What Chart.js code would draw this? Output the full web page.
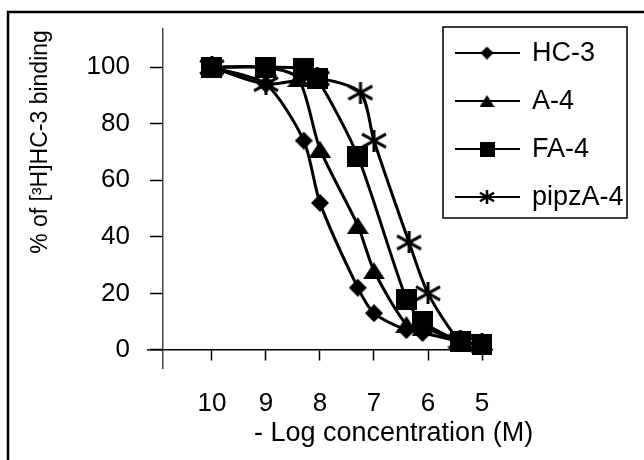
<!DOCTYPE html>
<html>
<head>
<meta charset="utf-8">
<script src="https://cdn.jsdelivr.net/npm/chart.js@4.4.0/dist/chart.umd.min.js"></script>
<style>
  body { margin: 0; background: #fff; }
  #wrap { width: 644px; height: 460px; }
</style>
</head>
<body>
<div id="wrap"><canvas id="binding-chart" width="644" height="460"></canvas></div>
<script>
        // Data
        const seriesNames = ['HC-3', 'A-4', 'FA-4', 'pipzA-4'];
        const hc3X = [10, 9, 8.3, 8, 7.3, 7, 6.4, 6.1, 5.4, 5];
        const hc3Y = [100, 94, 74, 52, 22, 13, 7, 6, 3, 2];
        const a4X = [10, 9, 8.4, 8, 7.3, 7, 6.4, 6.1, 5.4, 5];
        const a4Y = [100, 100, 96, 71, 44, 28, 9, 8, 3, 2];
        const fa4X = [10, 9, 8.3, 8.05, 7.3, 6.4, 6.1, 5.4, 5];
        const fa4Y = [100, 100, 99.5, 96, 68.5, 18, 10, 3, 2];
        const pipzX = [10, 9, 8.05, 7.25, 7, 6.35, 6, 5.4, 5];
        const pipzY = [100, 94, 96, 91, 74, 38, 20, 3, 2];
        const xTicks = [10, 9, 8, 7, 6, 5];
        const yTicks = [0, 20, 40, 60, 80, 100];

        const FONT = '"Liberation Sans", Arial, sans-serif';

        // Excel-like marker images
        function markerCanvas(kind, w, h, lw) {
            const c = document.createElement('canvas');
            c.width = w;
            c.height = h;
            const g = c.getContext('2d');
            g.fillStyle = '#000';
            g.strokeStyle = '#000';
            g.lineWidth = lw || 1;
            g.beginPath();
            if (kind === 'diamond') {
                g.moveTo(w / 2, 0); g.lineTo(w, h / 2); g.lineTo(w / 2, h); g.lineTo(0, h / 2);
                g.closePath(); g.fill();
            } else if (kind === 'triangle') {
                g.moveTo(w / 2, 0); g.lineTo(w, h); g.lineTo(0, h);
                g.closePath(); g.fill();
            } else if (kind === 'square') {
                g.fillRect(0, 0, w, h);
            } else {
                g.moveTo(1, h * 0.2); g.lineTo(w - 1, h * 0.8);
                g.moveTo(w - 1, h * 0.2); g.lineTo(1, h * 0.8);
                g.moveTo(w / 2, 0); g.lineTo(w / 2, h);
                g.stroke();
            }
            return c;
        }

        const bigMarkers = [
            markerCanvas('diamond', 18, 18),
            markerCanvas('triangle', 22, 17),
            markerCanvas('square', 21, 21),
            markerCanvas('star', 26, 22, 3)
        ];
        const smallMarkers = [
            markerCanvas('diamond', 13, 13),
            markerCanvas('triangle', 15, 12),
            markerCanvas('square', 15, 15),
            markerCanvas('star', 16, 14, 2.5)
        ];

        const toPoints = (xs, ys) => xs.map((x, i) => ({ x: x, y: ys[i] }));
        const allX = [hc3X, a4X, fa4X, pipzX];
        const allY = [hc3Y, a4Y, fa4Y, pipzY];

        const datasets = seriesNames.map((name, i) => ({
            label: name,
            data: toPoints(allX[i], allY[i]),
            borderColor: '#000',
            backgroundColor: '#000',
            borderWidth: 3,
            pointStyle: bigMarkers[i],
            tension: 0.25,
            fill: false
        }));

        // Frame, axis titles and boxed legend
        const extras = {
            id: 'extras',
            afterDraw(chart) {
                const ctx = chart.ctx;
                const y0 = chart.scales.y;
                ctx.save();
                ctx.strokeStyle = '#000';
                ctx.lineWidth = 2.5;
                ctx.beginPath();
                ctx.moveTo(8, 460); ctx.lineTo(8, 12); ctx.lineTo(644, 12);
                ctx.stroke();

                // x axis stub left of the y axis
                const zy = y0.getPixelForValue(0);
                ctx.lineWidth = 1.5;
                ctx.beginPath();
                ctx.moveTo(147, zy); ctx.lineTo(chart.chartArea.left, zy);
                ctx.stroke();

                ctx.fillStyle = '#000';
                ctx.font = '27px ' + FONT;
                ctx.textBaseline = 'alphabetic';
                ctx.textAlign = 'left';
                ctx.fillText('- Log concentration (M)', 254, 441);

                ctx.save();
                ctx.translate(47, 142);
                ctx.rotate(-Math.PI / 2);
                ctx.textAlign = 'center';
                ctx.font = '23px ' + FONT;
                ctx.fillText('% of [\u00B3H]HC-3 binding', 0, 0);
                ctx.restore();

                // legend box
                ctx.lineWidth = 1.5;
                ctx.strokeRect(443, 27, 184, 191);
                const rows = [53, 101, 149, 197];
                ctx.font = '27px ' + FONT;
                ctx.textBaseline = 'middle';
                seriesNames.forEach((name, i) => {
                    const ry = rows[i];
                    ctx.lineWidth = 2;
                    ctx.beginPath();
                    ctx.moveTo(455, ry); ctx.lineTo(520, ry);
                    ctx.stroke();
                    const m = smallMarkers[i];
                    ctx.drawImage(m, 487 - m.width / 2, ry - m.height / 2);
                    ctx.fillText(name, 532, ry + 1);
                });
                ctx.restore();
            }
        };

        const myChart = new Chart(document.getElementById('binding-chart'), {
            type: 'line',
            data: { datasets: datasets },
            options: {
                responsive: false,
                animation: false,
                layout: { padding: { left: 0, top: 29, right: 152, bottom: 92 } },
                plugins: { legend: { display: false }, tooltip: { enabled: false } },
                scales: {
                    x: {
                        type: 'linear',
                        reverse: true,
                        min: 4.815,
                        max: 10.907,
                        position: { y: 0 },
                        afterBuildTicks: s => { s.ticks = xTicks.map(v => ({ value: v })); },
                        afterFit: s => { s.paddingLeft = 0; s.paddingRight = 0; },
                        border: { display: true, color: '#000', width: 1.5 },
                        grid: { drawOnChartArea: false, drawTicks: true, tickLength: 10, color: '#000', tickWidth: 1.5 },
                        ticks: { color: '#000', font: { family: FONT, size: 26 }, padding: 28, maxRotation: 0 }
                    },
                    y: {
                        min: -6.4,
                        max: 113.5,
                        afterBuildTicks: s => { s.ticks = yTicks.map(v => ({ value: v })); },
                        afterFit: s => { s.width = 163; s.paddingTop = 0; s.paddingBottom = 0; },
                        border: { display: true, color: '#444', width: 1.5 },
                        grid: { drawOnChartArea: false, drawTicks: true, tickLength: 13, color: '#000', tickWidth: 1.5 },
                        ticks: { color: '#000', font: { family: FONT, size: 26 }, padding: 20 }
                    }
                }
            },
            plugins: [extras]
        });
</script>
</body>
</html>
